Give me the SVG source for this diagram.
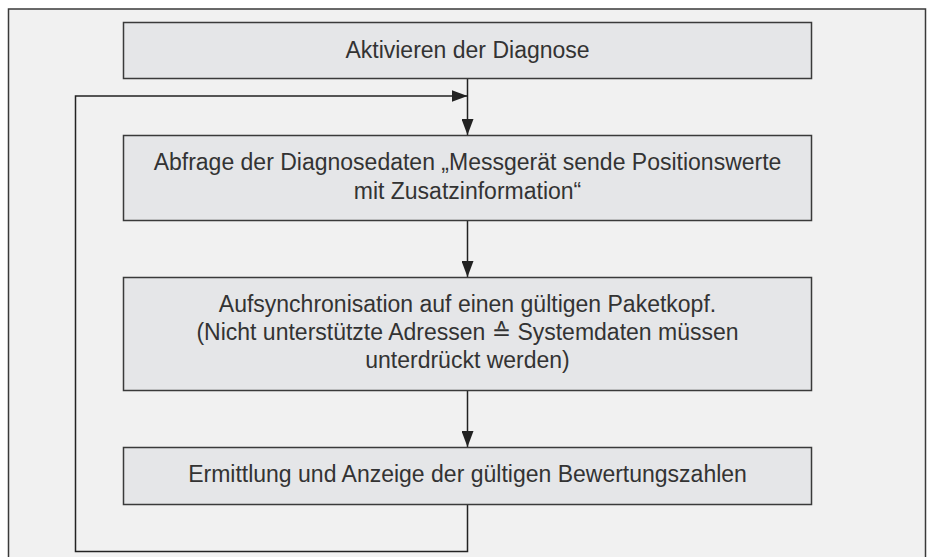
<svg xmlns="http://www.w3.org/2000/svg" width="928" height="557" viewBox="0 0 928 557">
<defs>
<style>
.frame{fill:#f1f1f1;stroke:#3a3a3a;stroke-width:1.5}
.box{fill:#e5e6e8;stroke:#3a3a3a;stroke-width:1.5}
.lbl{font-family:"Liberation Sans",Arial,"DejaVu Sans",sans-serif;font-size:23px;fill:#333333;text-anchor:middle}
.conn{fill:none;stroke:#222;stroke-width:1.5}
</style>
<marker id="arr" viewBox="0 0 16 12" refX="16" refY="6" markerWidth="16" markerHeight="12" markerUnits="userSpaceOnUse" orient="auto">
<path d="M0,0 L16,6 L0,12 Z" fill="#222"/>
</marker>
</defs>
<rect width="928" height="557" fill="#ffffff"/>
<rect class="frame" x="8.5" y="9" width="917" height="560"/>
<g id="connectors">
<line class="conn" x1="467.5" y1="78.5" x2="467.5" y2="135" marker-end="url(#arr)"/>
<line class="conn" x1="467.5" y1="220.5" x2="467.5" y2="277" marker-end="url(#arr)"/>
<line class="conn" x1="467.5" y1="390.5" x2="467.5" y2="447" marker-end="url(#arr)"/>
<polyline class="conn" points="467.5,504.5 467.5,551.5 75.5,551.5 75.5,96 467.5,96" marker-end="url(#arr)"/>
</g>
<g id="n1">
<rect class="box" x="123.5" y="22.5" width="688" height="56"/>
<text class="lbl" x="467.5" y="58">Aktivieren der Diagnose</text>
</g>
<g id="n2">
<rect class="box" x="123.5" y="135.5" width="688" height="85"/>
<text class="lbl" x="467.5" y="170">Abfrage der Diagnosedaten „Messgerät sende Positionswerte</text>
<text class="lbl" x="467.5" y="199">mit Zusatzinformation“</text>
</g>
<g id="n3">
<rect class="box" x="123.5" y="277.5" width="688" height="113"/>
<text class="lbl" x="467.5" y="312">Aufsynchronisation auf einen gültigen Paketkopf.</text>
<text class="lbl" x="467.5" y="340">(Nicht unterstützte Adressen ≙ Systemdaten müssen</text>
<text class="lbl" x="467.5" y="368">unterdrückt werden)</text>
</g>
<g id="n4">
<rect class="box" x="123.5" y="447.5" width="688" height="57"/>
<text class="lbl" x="467.5" y="482">Ermittlung und Anzeige der gültigen Bewertungszahlen</text>
</g>
</svg>
